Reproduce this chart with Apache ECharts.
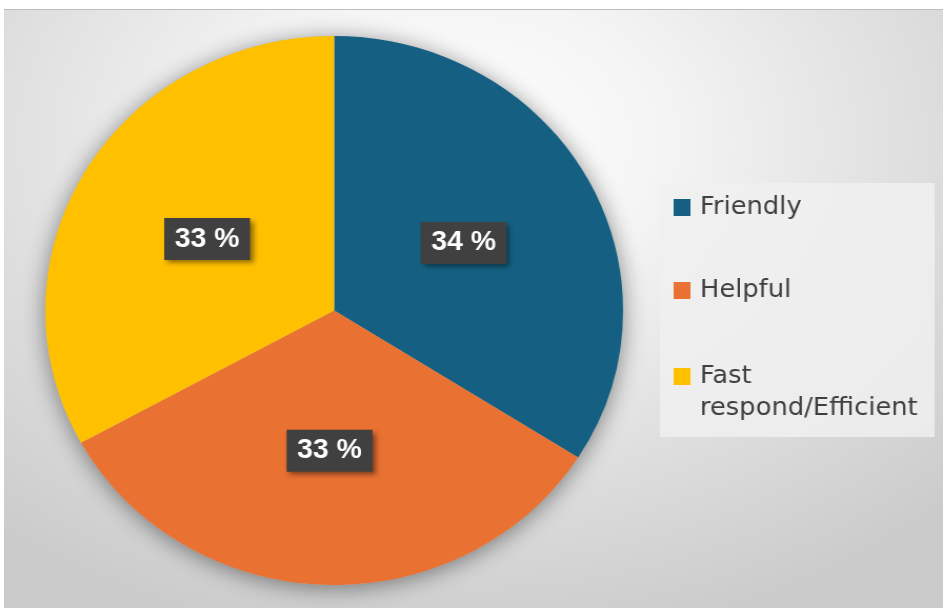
<!DOCTYPE html>
<html>
<head>
<meta charset="utf-8">
<script src="https://cdn.jsdelivr.net/npm/echarts@6/dist/echarts.min.js"></script>
<style>
  html, body { margin: 0; padding: 0; background: #ffffff; width: 943px; height: 608px; overflow: hidden; }
  #bg { position: absolute; left: 4px; top: 9px; width: 939px; height: 599px;
        border-top: 1px solid #bdbdbd;
        background: radial-gradient(ellipse 75% 85% at 48% 22%, #ffffff 0%, #f4f4f4 30%, #dcdcdc 70%, #cbcbcb 100%); }
  #chart { position: absolute; left: 0; top: 0; width: 896px; height: 608px;
           transform: scaleX(1.0525); transform-origin: 0 0; }
</style>
</head>
<body>
<div id="bg"></div>
<div id="chart"></div>
<script>
// ---- data ----
const categories = ['Friendly', 'Helpful', 'Fast respond/Efficient'];
const shares = [34, 33, 33];
const colors = ['#156082', '#E97132', '#FFC000'];

const total = shares.reduce((a, b) => a + b, 0);
const pieData = categories.map((c, i) => ({ name: c, value: shares[i], itemStyle: { color: colors[i] } }));

const chart = echarts.init(document.getElementById('chart'), null, { renderer: 'canvas' });

const tokenStyle = { fontFamily: 'DejaVu Sans', fontSize: 24.5, color: '#3f3f3f', lineHeight: 32, padding: [0, 0, 0, 4] };
const legendText = { fontFamily: 'DejaVu Sans', fontSize: 24.5, color: '#3f3f3f', lineHeight: 32, rich: { t: tokenStyle } };

chart.setOption({
  animation: false,
  backgroundColor: 'transparent',
  graphic: [{
    type: 'rect', left: 627, top: 183, z: -1,
    shape: { width: 261, height: 254 },
    style: { fill: 'rgba(240,240,240,0.85)' }
  }],
  legend: [
    {
      data: categories.slice(0, 2),
      orient: 'vertical', left: 640, top: 191.5, padding: 0,
      itemWidth: 16, itemHeight: 17, itemGap: 51, icon: 'rect',
      selectedMode: false,
      formatter: n => '{t|' + n + '}',
      textStyle: legendText
    },
    {
      data: categories.slice(2),
      orient: 'vertical', left: 640, top: 328.5, padding: 0,
      itemWidth: 16, itemHeight: 17, icon: 'rect',
      selectedMode: false,
      formatter: n => '{t| }\n' + n.split(' ').map(w => '{t|' + w + '}').join('\n'),
      textStyle: legendText
    }
  ],
  series: [
    {
      type: 'pie', silent: true, z: 1,
      center: [317.5, 310.5], radius: 274.5,
      label: { show: false }, labelLine: { show: false },
      data: [{ name: '_shadow', value: total }],
      itemStyle: { color: '#bbbbbb', shadowBlur: 22, shadowColor: 'rgba(0,0,0,0.45)', shadowOffsetY: 3 }
    },
    {
      type: 'pie', z: 2,
      center: [317.5, 310.5], radius: 274.5,
      startAngle: 90, clockwise: true,
      data: pieData,
      itemStyle: { borderWidth: 0 },
      label: {
        show: true, position: 'inside',
        formatter: p => p.value + ' %',
        fontFamily: 'Liberation Sans', fontWeight: 'bold', fontSize: 27, lineHeight: 28,
        color: '#ffffff',
        backgroundColor: '#404040',
        padding: [7, 10, 7, 10],
        shadowColor: 'rgba(0,0,0,0.45)', shadowBlur: 5, shadowOffsetX: 3, shadowOffsetY: 3
      },
      labelLine: { show: false },
      emphasis: { disabled: true }
    }
  ]
});
</script>
</body>
</html>
